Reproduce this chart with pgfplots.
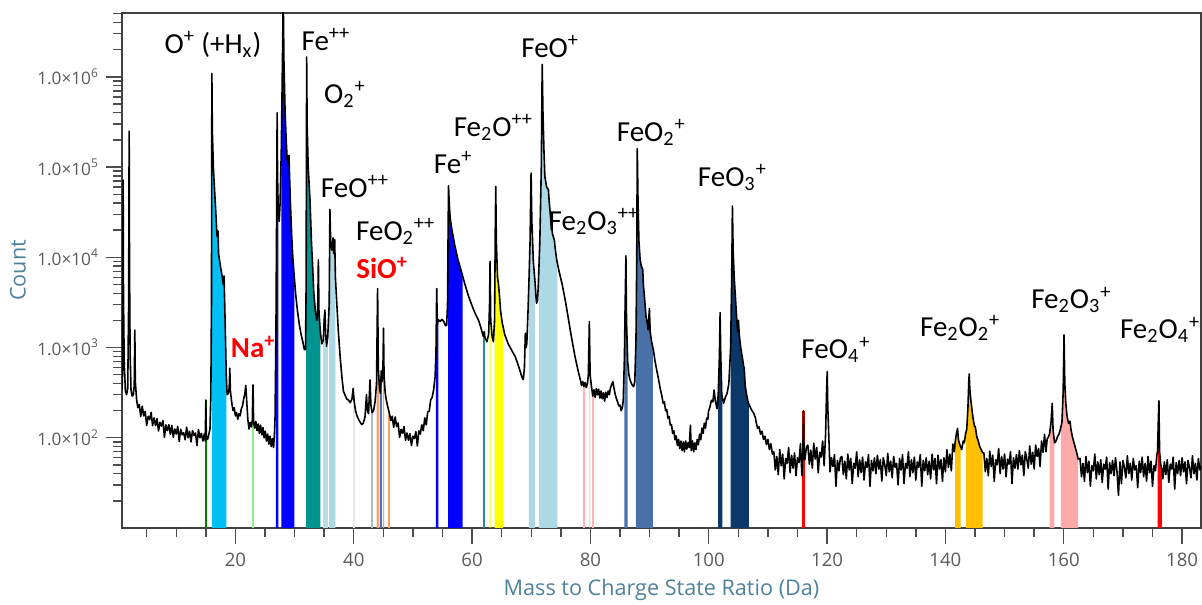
\documentclass[border=0pt]{standalone}
\usepackage{pgfplots}
\pgfplotsset{compat=1.18}
\usepackage{pgfplotstable}
\usepackage{fontspec}
\setmainfont{Open Sans}
\newfontfamily\annfont{Carlito}
\definecolor{axlab}{HTML}{4F819B}
\definecolor{ticklab}{HTML}{5A5A5A}
\definecolor{cCyan}{HTML}{00BFF5}
\definecolor{cGreen}{HTML}{008000}
\definecolor{cLGreen}{HTML}{90EE90}
\definecolor{cBlue}{HTML}{0000FF}
\definecolor{cTeal}{HTML}{009490}
\definecolor{cPowder}{HTML}{B8DDE8}
\definecolor{cLBlue}{HTML}{ADD8E6}
\definecolor{cGray}{HTML}{E4E4EA}
\definecolor{cLSteel}{HTML}{A9BCD8}
\definecolor{cOrange}{HTML}{F4A46A}
\definecolor{cMBlue}{HTML}{4A6BC4}
\definecolor{cTeal2}{HTML}{2E8B8B}
\definecolor{cYellow}{HTML}{FFFF00}
\definecolor{cPink}{HTML}{FFB3B3}
\definecolor{cSteel}{HTML}{4A70A8}
\definecolor{cNavy}{HTML}{0B3869}
\definecolor{cRed}{HTML}{FF0000}
\definecolor{cGold}{HTML}{FFC000}
\definecolor{cPinkB}{HTML}{FFAAAA}

\pgfplotstableread{
x y
0.8 340
0.9 420
0.97 2500
1.02 72000
1.08 4000
1.2 700
1.4 330
1.6 300
1.8 350
1.95 3000
2.04 250000
2.1 8000
2.2 900
2.35 340
2.55 290
2.75 300
2.9 380
3.0 1560
3.08 420
3.3 265
3.5 216
3.75 233
4.0 172
4.25 224
4.5 175
4.75 196
5.0 137
5.25 173
5.5 159
5.75 191
6.0 136
6.25 166
6.5 137
6.75 163
7.0 119
7.25 148
7.5 135
7.75 155
8.0 101
8.25 139
8.5 120
8.75 140
9.0 109
9.25 137
9.5 101
9.75 125
10.0 110
10.25 133
10.5 91
10.75 124
11.0 108
11.25 114
11.5 95
11.75 131
12.0 100
12.25 118
12.5 90
12.75 120
13.0 106
13.25 113
13.5 82
13.75 123
14.0 100
14.25 112
14.5 92
14.75 111
14.9 92
15.0 262
15.08 105
15.3 96
15.5 108
15.7 125
15.85 300
15.95 3000
16.02 1090000
16.1 250000
16.3 90000
16.6 40000
16.9 17000
17.06 19600
17.15 11000
17.4 8500
17.7 6500
17.95 5000
18.07 6200
18.17 3500
18.3 1500
18.45 500
18.6 300
18.8 310
18.95 360
19.05 590
19.15 330
19.4 240
19.6 200
19.8 215
20.0 175
20.2 190
20.4 160
20.6 185
20.8 175
21.0 210
21.2 225
21.4 270
21.6 310
21.75 380
21.9 260
22.1 160
22.3 125
22.5 148
22.7 132
22.85 155
22.97 385
23.07 150
23.25 128
23.45 152
23.65 120
23.85 142
24.05 112
24.25 138
24.45 108
24.65 130
24.85 100
25.05 118
25.25 92
25.45 110
25.65 85
25.85 104
26.05 80
26.25 98
26.45 78
26.6 110
26.7 170
26.85 1500
26.95 20000
27.05 400000
27.12 80000
27.25 30000
27.4 25000
27.55 40000
27.75 150000
27.95 1500000
28.08 8000000
28.2 1500000
28.4 400000
28.6 190000
28.75 120000
28.9 110000
29.05 135000
29.15 80000
29.3 40000
29.5 18000
29.7 10000
29.95 6000
30.2 3800
30.5 2500
30.8 1800
31.1 1400
31.4 1150
31.65 950
31.85 950
31.95 5000
32.04 1660000
32.12 300000
32.3 100000
32.6 44000
32.85 15000
33.05 8000
33.25 4000
33.5 2600
33.75 2000
33.9 2400
34.02 9400
34.12 2500
34.35 1500
34.6 1100
34.85 1200
35.0 2000
35.12 2600
35.25 1400
35.4 1030
35.6 1300
35.85 3000
35.97 34000
36.1 15000
36.3 12000
36.5 16400
36.62 11000
36.78 15700
36.9 6000
37.1 3400
37.4 1500
37.7 790
38.0 470
38.25 330
38.5 300
38.8 270
39.1 262
39.4 245
39.7 270
39.9 353
40.05 260
40.3 200
40.55 175
40.8 160
41.05 150
41.35 140
41.6 145
41.9 170
42.15 300
42.3 200
42.5 185
42.75 437
42.9 230
43.1 190
43.35 200
43.6 250
43.85 400
44.03 4500
44.15 600
44.35 350
44.5 310
44.65 550
44.8 420
44.95 700
45.03 1640
45.12 500
45.3 320
45.5 262
45.75 220
46.0 190
46.25 156
46.5 173
46.75 131
47.0 170
47.25 133
47.5 146
47.75 101
48.0 124
48.25 112
48.5 133
48.75 94
49.0 113
49.25 94
49.5 111
49.75 82
50.0 104
50.25 98
50.5 117
50.75 81
51.0 119
51.25 110
51.5 139
51.75 120
52.0 166
52.25 139
52.5 194
52.75 197
53.0 262
53.25 280
53.5 340
53.75 475
53.9 900
54.02 4500
54.12 1800
54.3 2030
54.6 1950
54.9 2050
55.2 1950
55.5 1750
55.7 1750
55.85 3000
55.95 20000
56.02 62000
56.15 38000
56.3 27000
56.6 20000
57.1 13300
57.6 9500
58.26 6700
58.4 6200
58.8 5000
59.4 3700
60.0 2900
60.5 2400
61.1 2000
61.5 1650
61.9 1320
62.06 1500
62.15 1300
62.5 1160
62.8 1400
62.95 3000
63.04 9000
63.15 2000
63.4 1300
63.6 1160
63.8 2000
63.92 20000
64.0 61000
64.1 15000
64.3 6000
64.45 5100
64.6 4000
64.8 2600
65.1 1860
65.2 1750
65.5 1400
66.1 1100
66.7 930
67.3 790
67.9 610
68.4 475
68.65 440
68.85 600
69.0 1440
69.12 1000
69.25 1100
69.45 2500
69.6 5100
69.8 15000
69.97 86000
70.1 25000
70.35 9000
70.65 5200
70.8 3600
70.9 3100
71.05 3300
71.2 5000
71.3 7800
71.45 15000
71.7 100000
71.85 1370000
71.98 400000
72.15 150000
72.3 79000
72.6 60000
72.9 56000
73.05 40000
73.35 24000
73.6 18000
73.9 15600
74.05 12500
74.3 9400
74.4 8700
74.7 7000
75.2 5100
75.8 3200
76.3 2030
76.8 1300
77.4 790
77.9 560
78.3 437
78.5 380
78.7 420
78.9 370
79.1 410
79.3 360
79.5 400
79.65 500
79.82 1940
79.95 500
80.2 360
80.4 290
80.6 340
80.8 280
81.0 350
81.2 300
81.4 345
81.6 275
81.8 330
82.0 270
82.2 315
82.4 255
82.6 320
82.8 280
83.0 330
83.2 300
83.4 360
83.6 390
83.8 418
84.0 350
84.2 300
84.4 270
84.6 250
84.8 225
85.0 230
85.2 200
85.4 215
85.55 260
85.75 800
85.85 2500
86.0 10400
86.1 2000
86.3 700
86.5 500
86.7 437
87.0 390
87.3 368
87.5 420
87.7 1200
87.82 8000
87.92 160000
88.05 40000
88.2 15000
88.4 9400
88.6 8000
88.85 7300
88.95 5000
89.15 3500
89.4 2200
89.6 1900
89.75 1570
89.97 2700
90.1 1500
90.35 1150
90.55 1000
90.65 940
90.9 720
91.2 565
91.5 450
91.8 350
92.1 285
92.3 240
92.5 250
92.7 200
92.9 205
93.1 165
93.3 172
93.5 138
93.7 140
93.9 112
94.1 120
94.3 95
94.5 105
94.7 82
94.9 96
95.1 76
95.3 92
95.5 72
95.7 90
95.9 70
96.1 92
96.3 75
96.5 88
96.7 78
96.9 138
97.05 72
97.25 92
97.45 70
97.65 88
97.85 74
98.05 96
98.25 84
98.45 110
98.65 95
98.85 128
99.05 112
99.25 145
99.45 128
99.65 165
99.85 160
99.95 195
100.2 220
100.45 260
100.7 250
100.9 338
101.1 260
101.4 210
101.6 300
101.8 800
101.92 2440
102.02 900
102.2 300
102.3 280
102.5 241
102.8 280
103.1 310
103.4 400
103.7 1000
103.88 6000
104.0 37000
104.12 12000
104.3 6000
104.5 3700
104.7 2200
104.9 1500
105.02 2000
105.15 1400
105.4 1000
105.7 760
105.9 620
106.0 590
106.15 380
106.4 300
106.7 241
106.8 235
107.0 220
107.3 200
107.6 187
107.9 165
108.0 150
108.25 128
108.5 132
108.75 110
109.0 118
109.25 96
109.5 104
109.75 84
110.0 96
110.25 74
110.5 86
110.75 66
111.0 70
111.25 44
111.5 62
111.75 39
112.0 74
112.25 49
112.5 66
112.75 35
113.0 59
113.25 52
113.5 78
113.75 41
114.0 64
114.25 46
114.5 68
114.75 38
115.0 60
115.25 53
115.5 86
115.75 38
115.9 70
116.02 198
116.12 60
116.25 57
116.5 79
116.75 83
117.0 51
117.25 73
117.5 46
117.75 87
118.0 58
118.25 78
118.5 41
118.75 69
119.0 61
119.25 92
119.5 49
119.75 110
119.9 300
120.02 541
120.12 220
120.3 100
120.5 42
120.75 60
121.0 48
121.25 65
121.5 29
121.75 56
122.0 43
122.25 60
122.5 62
122.75 39
123.0 55
123.25 35
123.5 66
123.75 44
124.0 59
124.25 31
124.5 52
124.75 46
125.0 70
125.25 37
125.5 57
125.75 41
126.0 61
126.25 34
126.5 54
126.75 47
127.0 65
127.25 29
127.5 56
127.75 43
128.0 60
128.25 40
128.5 64
128.75 45
129.0 57
129.25 33
129.5 60
129.75 50
130.0 38
130.25 67
130.5 42
130.75 55
131.0 36
131.25 62
131.5 47
131.75 52
132.0 30
132.25 59
132.5 44
132.75 65
133.0 31
133.25 52
133.5 46
133.75 70
134.0 37
134.25 57
134.5 41
134.75 61
135.0 34
135.25 54
135.5 47
135.75 65
136.0 29
136.25 56
136.5 43
136.75 60
137.0 39
137.25 55
137.5 35
137.75 66
138.0 44
138.25 59
138.5 31
138.75 64
139.0 45
139.25 57
139.5 33
139.75 60
140.0 42
140.25 74
140.5 47
140.75 66
141.0 43
141.25 85
141.5 70
141.65 90
141.75 100
141.9 115
142.05 127
142.2 95
142.4 85
142.55 80
142.75 74
143.0 92
143.2 88
143.4 110
143.5 117
143.6 125
143.8 210
143.95 420
144.02 509
144.12 350
144.3 262
144.5 200
144.7 160
144.9 135
145.05 132
145.3 103
145.55 92
145.8 80
146.05 74
146.3 68
146.5 68
146.75 42
147.0 59
147.25 38
147.5 71
147.75 48
148.0 64
148.25 33
148.5 57
148.75 50
149.0 76
149.25 40
149.5 62
149.75 45
150.0 66
150.25 37
150.5 58
150.75 51
151.0 70
151.25 31
151.5 60
151.75 46
152.0 65
152.25 45
152.5 72
152.75 50
153.0 64
153.25 38
153.5 70
153.75 58
154.0 46
154.25 81
154.5 51
154.75 69
155.0 45
155.25 83
155.5 62
155.75 76
156.0 48
156.25 92
156.5 69
156.75 109
157.0 70
157.2 98
157.35 100
157.6 110
157.85 150
158.05 241
158.2 120
158.4 94
158.45 88
158.7 92
158.95 103
159.2 110
159.45 125
159.5 130
159.7 150
159.9 320
160.05 1380
160.18 400
160.35 240
160.55 175
160.8 145
161.05 152
161.25 120
161.5 100
161.8 85
162.1 72
162.4 60
162.45 58
162.75 59
163.0 37
163.25 52
163.5 33
163.75 62
164.0 41
164.25 55
164.5 29
164.75 49
165.0 43
165.25 66
165.5 35
165.75 54
166.0 39
166.25 57
166.5 32
166.75 51
167.0 45
167.25 61
167.5 27
167.75 53
168.0 40
168.25 56
168.5 38
168.75 60
169.0 42
169.25 23
169.5 54
169.75 31
170.0 56
170.25 47
170.5 36
170.75 63
171.0 40
171.25 52
171.5 34
171.75 59
172.0 44
172.25 49
172.5 28
172.75 55
173.0 41
173.25 61
173.5 37
173.75 52
174.0 33
174.25 62
174.5 41
174.75 55
175.0 29
175.25 49
175.5 43
175.75 66
175.85 70
175.98 150
176.08 257
176.2 70
176.4 50
176.6 45
176.75 35
177.0 54
177.25 39
177.5 57
177.75 32
178.0 51
178.25 45
178.5 61
178.75 27
179.0 53
179.25 40
179.5 56
179.75 38
180.0 60
180.25 42
180.5 54
180.75 31
181.0 56
181.25 47
181.5 36
181.75 63
182.0 40
182.25 52
182.5 34
182.75 59
183.0 44
183.25 49
}\spec

\newcommand{\band}[3]{\addplot[fill=#1, draw=none, forget plot, restrict x to domain=#2:#3] table {\spec} \closedcycle;}
\newcommand{\spike}[3]{\addplot[ycomb, draw=#1, line width=1.1pt, forget plot] coordinates {(#2,#3)};}
\newcommand{\ann}[3]{\node[font=\annfont\fontsize{14.5}{16}\selectfont, inner sep=0pt] at (axis cs:#1,#2) {#3};}

\begin{document}
\begin{tikzpicture}
\useasboundingbox (-61pt,-38pt) rectangle (540pt,264pt);
\begin{axis}[
  at={(0,0)}, anchor=south west,
  scale only axis, width=539.5pt, height=257.5pt,
  xmin=0.83, xmax=183.2, ymode=log, ymin=10, ymax=5.1e6,
  axis line style={draw=black!75, line width=0.7pt},
  tick align=outside, tick pos=left,
  major tick length=8pt, minor tick length=4.5pt,
  every tick/.style={black!70, line width=0.7pt},
  xtick={20,40,...,180},
  xticklabels={20,40,60,80,100,120,140,160,180},
  minor xtick={5,10,...,180},
  ytick={100,1000,10000,100000,1000000},
  yticklabels={1.0×10\textsuperscript{2},1.0×10\textsuperscript{3},1.0×10\textsuperscript{4},1.0×10\textsuperscript{5},1.0×10\textsuperscript{6}},
  minor ytick={20,30,40,50,60,70,80,90,200,300,400,500,600,700,800,900,2000,3000,4000,5000,6000,7000,8000,9000,20000,30000,40000,50000,60000,70000,80000,90000,200000,300000,400000,500000,600000,700000,800000,900000,2000000,3000000,4000000,5000000},
  x tick label style={font=\fontsize{9.3}{10}\selectfont, text=ticklab, yshift=-1pt},
  y tick label style={font=\fontsize{8.6}{10}\selectfont, text=ticklab},
  xlabel={Mass to Charge State Ratio (Da)},
  ylabel={Count},
  xlabel style={font=\fontsize{10.8}{12}\selectfont, text=axlab, at={(axis description cs:0.5,-0.12)}, anchor=center},
  ylabel style={font=\fontsize{10.8}{12}\selectfont, text=axlab, at={(axis description cs:-0.0964,0.5)}, anchor=center},
  clip=true,
]
\band{cCyan}{16.0}{18.45}
\band{cBlue}{26.85}{27.3}
\band{cBlue}{27.7}{29.95}
\band{cTeal}{31.9}{34.35}
\band{cLBlue}{35.85}{36.9}
\band{cOrange}{43.85}{44.35}
\band{cOrange}{44.95}{45.2}
\band{cBlue}{53.9}{54.3}
\band{cBlue}{55.9}{58.4}
\band{cYellow}{62.9}{63.2}
\band{cYellow}{63.8}{65.2}
\band{cLBlue}{69.6}{70.65}
\band{cLBlue}{71.3}{74.4}
\band{cPink}{79.8}{80.1}
\band{cSteel}{85.75}{86.3}
\band{cSteel}{87.7}{90.55}
\band{cNavy}{101.6}{102.3}
\band{cNavy}{103.7}{106.8}
\band{cGold}{141.65}{142.55}
\band{cGold}{143.5}{146.3}
\band{cPinkB}{157.6}{158.4}
\band{cPinkB}{159.5}{162.45}
\band{cRed}{175.85}{176.6}

\spike{cGreen}{15.0}{262}
\spike{cLGreen}{23.02}{250}
\spike{cPowder}{35.0}{2000}
\spike{cPowder}{35.38}{1050}
\spike{cGray}{40.0}{300}
\spike{cLSteel}{43.1}{190}
\spike{cMBlue}{44.6}{450}
\spike{cOrange}{46.0}{190}
\spike{cTeal2}{62.0}{1400}
\spike{cPink}{78.9}{370}
\spike{cPink}{80.5}{300}
\spike{cRed}{116.02}{198}
\spike{cRed}{176.08}{257}

\addplot[black, line width=0.8pt, line join=round] table {\spec};

\ann{16.2}{2.28e6}{O\textsuperscript{+} (+H\textsubscript{x})}
\ann{35.3}{2.59e6}{Fe\textsuperscript{++}}
\ann{38.5}{6.37e5}{O\textsubscript{2}\textsuperscript{+}}
\ann{40.2}{6.07e4}{FeO\textsuperscript{++}}
\ann{47.1}{1.92e4}{FeO\textsubscript{2}\textsuperscript{++}}
\ann{44.8}{7.64e3}{\color{cRed}\bfseries SiO\textsuperscript{+}}
\ann{23.0}{1.01e3}{\color{cRed}\bfseries Na\textsuperscript{+}}
\ann{56.8}{1.12e5}{Fe\textsuperscript{+}}
\ann{63.6}{2.74e5}{Fe\textsubscript{2}O\textsuperscript{++}}
\ann{73.2}{2.17e6}{FeO\textsuperscript{+}}
\ann{80.6}{2.48e4}{Fe\textsubscript{2}O\textsubscript{3}\textsuperscript{++}}
\ann{90.3}{2.41e5}{FeO\textsubscript{2}\textsuperscript{+}}
\ann{104.0}{7.6e4}{FeO\textsubscript{3}\textsuperscript{+}}
\ann{121.5}{940}{FeO\textsubscript{4}\textsuperscript{+}}
\ann{142.5}{1.65e3}{Fe\textsubscript{2}O\textsubscript{2}\textsuperscript{+}}
\ann{161.3}{3.37e3}{Fe\textsubscript{2}O\textsubscript{3}\textsuperscript{+}}
\ann{176.3}{1.57e3}{Fe\textsubscript{2}O\textsubscript{4}\textsuperscript{+}}
\end{axis}
\end{tikzpicture}
\end{document}
